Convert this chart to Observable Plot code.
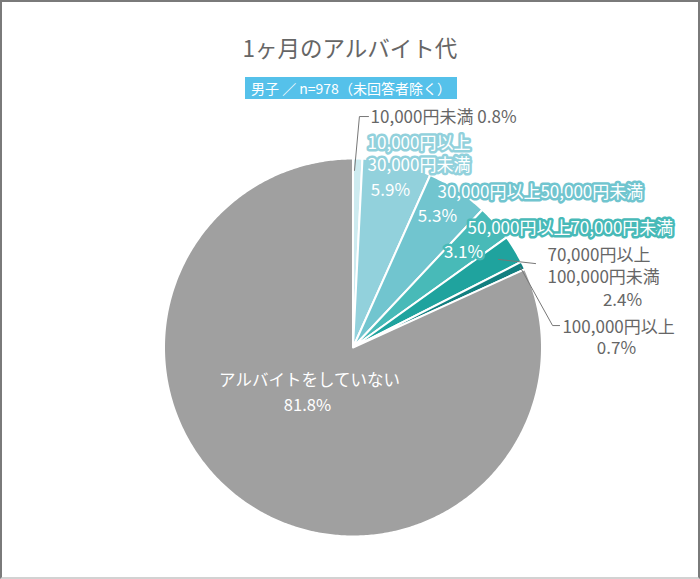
<!DOCTYPE html>
<html>
<head>
<meta charset="utf-8">
<script src="https://cdn.jsdelivr.net/npm/d3@7"></script>
<script src="https://cdn.jsdelivr.net/npm/@observablehq/plot@0.6"></script>
<style>
  html, body { margin: 0; padding: 0; background: #fff; }
  #frame { position: relative; width: 700px; height: 579px; overflow: hidden; font-family: "Noto Sans CJK JP", "Noto Sans", sans-serif; }
  #border { position: absolute; left: 0; top: 0; width: 700px; height: 579px; box-sizing: border-box;
            border: 2px solid #7a7a7a; border-bottom: 2px solid #d2d2d2; pointer-events: none; z-index: 2; }
  #header { height: 104px; position: relative; }
  #title { position: absolute; top: 30px; left: 0; width: 700px; text-align: center; font-size: 22.5px; color: #666; line-height: 34px; }
  #badge { position: absolute; top: 77px; left: 245px; height: 22px; line-height: 22px; padding: 0 6px; background: #55c1ea; color: #fff; font-size: 14px; white-space: nowrap; }
  #chart svg { display: block; }
</style>
</head>
<body>
<div id="frame">
  <div id="border"></div>
  <div id="header">
    <div id="title"></div>
    <div id="badge"></div>
  </div>
  <div id="chart"></div>
</div>
<script>
// ---- data ----
const titleText = "1ヶ月のアルバイト代";
const subtitleText = "男子 ／ n=978（未回答者除く）";
const categories = [
  "10,000円未満",
  "10,000円以上30,000円未満",
  "30,000円以上50,000円未満",
  "50,000円以上70,000円未満",
  "70,000円以上100,000円未満",
  "100,000円以上",
  "アルバイトをしていない"
];
const percents = [0.8, 5.9, 5.3, 3.1, 2.4, 0.7, 81.8];
const colors = ["#cdebf0", "#92d1dc", "#71c5cf", "#48bab8", "#1fa39e", "#137f80", "#a0a0a0"];

document.getElementById("title").textContent = titleText;
document.getElementById("badge").textContent = subtitleText;

// ---- pie geometry (unit circle, clockwise from 12 o'clock) ----
const pie = d3.pie().sort(null).value(d => d.pct);
const rows = categories.map((cat, i) => ({cat, pct: percents[i]}));
const arcs = pie(rows);
const slicePts = [];
for (const a of arcs) {
  const n = Math.max(2, Math.ceil((a.endAngle - a.startAngle) / 0.01));
  slicePts.push({cat: a.data.cat, u: 0, v: 0});
  for (let k = 0; k <= n; k++) {
    const t = a.startAngle + (a.endAngle - a.startAngle) * k / n;
    slicePts.push({cat: a.data.cat, u: Math.sin(t), v: Math.cos(t)});
  }
}

// ---- label layout (pie-radius units relative to the centre) ----
const pct = i => percents[i].toFixed(1) + "%";
const splitName = s => { const k = s.indexOf("以上"); return (k > 0 && k + 2 < s.length) ? [s.slice(0, k + 2), s.slice(k + 2)] : [s]; };
const labels = [
  {style: "gray",  i: 0, text: categories[0] + " " + pct(0), u: 0.093, v: 1.217, anchor: "start"},
  {style: "halo",  i: 1, text: splitName(categories[1])[0], u: 0.077, v: 1.079, anchor: "start"},
  {style: "halo",  i: 1, text: splitName(categories[1])[1], u: 0.077, v: 0.963, anchor: "start"},
  {style: "white", i: 1, text: pct(1), u: 0.198, v: 0.831, anchor: "middle"},
  {style: "halo",  i: 2, text: categories[2], u: 0.447, v: 0.818, anchor: "start"},
  {style: "white", i: 2, text: pct(2), u: 0.447, v: 0.693, anchor: "middle"},
  {style: "halo",  i: 3, text: categories[3], u: 0.606, v: 0.630, anchor: "start"},
  {style: "halo",  i: 3, text: pct(3), u: 0.585, v: 0.503, anchor: "middle"},
  {style: "gray",  i: 4, text: splitName(categories[4])[0], u: 1.029, v: 0.487, anchor: "start"},
  {style: "gray",  i: 4, text: splitName(categories[4])[1], u: 1.029, v: 0.370, anchor: "start"},
  {style: "gray",  i: 4, text: pct(4), u: 1.426, v: 0.249, anchor: "middle"},
  {style: "gray",  i: 5, text: categories[5], u: 1.108, v: 0.106, anchor: "start"},
  {style: "gray",  i: 5, text: pct(5), u: 1.394, v: -0.005, anchor: "middle"},
  {style: "big",   i: 6, text: categories[6], u: -0.230, v: -0.175, anchor: "middle"},
  {style: "big",   i: 6, text: pct(6), u: -0.241, v: -0.307, anchor: "middle"}
].map(d => ({...d, cat: categories[d.i]}));

const leaders = [
  {id: 0, u: 0.008, v: 0.937}, {id: 0, u: 0.034, v: 1.222}, {id: 0, u: 0.082, v: 1.222},
  {id: 4, u: 0.770, v: 0.466}, {id: 4, u: 0.966, v: 0.444},
  {id: 5, u: 0.886, v: 0.423}, {id: 5, u: 1.056, v: 0.116}, {id: 5, u: 1.093, v: 0.116}
];

// ---- plot ----
const W = 700, H = 475;
const cx = 352.5, cy = 243, R = 189;
const font = "Noto Sans CJK JP";
const textMarks = (style, opts) => ["start", "middle"].map(anchor => Plot.text(
  labels.filter(d => d.style === style && d.anchor === anchor),
  {x: "u", y: "v", text: "text", textAnchor: anchor, fontFamily: font, lineAnchor: "middle", ...opts}
));

const chart = Plot.plot({
  width: W, height: H, margin: 0,
  style: {background: "transparent"},
  x: {domain: [-1, 1], range: [cx - R, cx + R], axis: null},
  y: {domain: [-1, 1], range: [cy + R, cy - R], axis: null},
  color: {domain: categories, range: colors},
  marks: [
    Plot.line(slicePts, {x: "u", y: "v", z: "cat", fill: "cat", stroke: "white", strokeWidth: 2, curve: "linear-closed", strokeLinejoin: "round"}),
    Plot.line(leaders, {x: "u", y: "v", z: "id", stroke: "#777", strokeWidth: 1}),
    ...textMarks("gray", {fill: "#666", fontSize: 17}),
    ...textMarks("halo", {fill: "white", stroke: "cat", strokeWidth: 5, strokeLinejoin: "round", paintOrder: "stroke", fontSize: 17}),
    ...textMarks("white", {fill: "white", fontSize: 17}),
    ...textMarks("big", {fill: "white", fontSize: 16.5})
  ]
});
document.getElementById("chart").appendChild(chart);
</script>
</body>
</html>
